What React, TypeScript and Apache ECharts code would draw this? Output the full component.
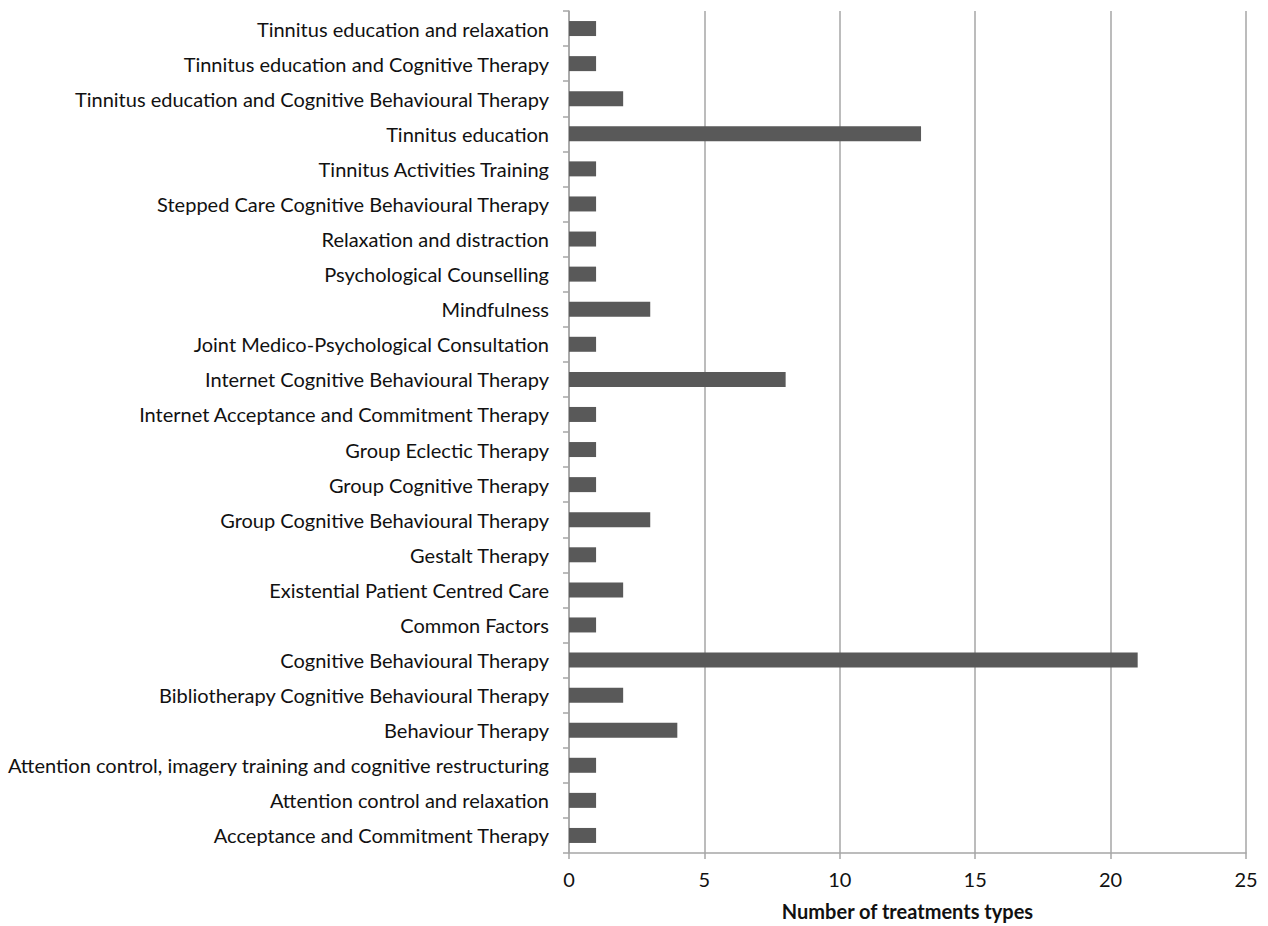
import React, { useEffect, useRef } from "react";
import * as echarts from "echarts";

const categories = [
  "Acceptance and Commitment Therapy",
  "Attention control and relaxation",
  "Attention control, imagery training and cognitive restructuring",
  "Behaviour Therapy",
  "Bibliotherapy Cognitive Behavioural Therapy",
  "Cognitive Behavioural Therapy",
  "Common Factors",
  "Existential Patient Centred Care",
  "Gestalt Therapy",
  "Group Cognitive Behavioural Therapy",
  "Group Cognitive Therapy",
  "Group Eclectic Therapy",
  "Internet Acceptance and Commitment Therapy",
  "Internet Cognitive Behavioural Therapy",
  "Joint Medico-Psychological Consultation",
  "Mindfulness",
  "Psychological Counselling",
  "Relaxation and distraction",
  "Stepped Care Cognitive Behavioural Therapy",
  "Tinnitus Activities Training",
  "Tinnitus education",
  "Tinnitus education and Cognitive Behavioural Therapy",
  "Tinnitus education and Cognitive Therapy",
  "Tinnitus education and relaxation",
];

const counts = [1, 1, 1, 4, 2, 21, 1, 2, 1, 3, 1, 1, 1, 8, 1, 3, 1, 1, 1, 1, 13, 2, 1, 1];

const xAxisName = "Number of treatments types";

const FONT = "Lato, 'Open Sans', sans-serif";

export default function App() {
  const ref = useRef<HTMLDivElement>(null);
  useEffect(() => {
    if (!ref.current) return;
    const chart = echarts.init(ref.current, null, { renderer: "svg" });
    chart.setOption({
      animation: false,
      backgroundColor: "#ffffff",
      grid: { left: 569, right: 22, top: 11, bottom: 68, containLabel: false },
      xAxis: {
        type: "value",
        min: 0,
        max: 25,
        interval: 5,
        name: xAxisName,
        nameLocation: "middle",
        nameGap: 48,
        nameTextStyle: { fontFamily: FONT, fontSize: 20, fontWeight: "bold", color: "#111111" },
        axisLine: { show: true, lineStyle: { color: "#a6a6a6", width: 1.5 } },
        axisTick: { show: true, length: 6, lineStyle: { color: "#a6a6a6", width: 1.5 } },
        axisLabel: { fontFamily: FONT, fontSize: 20, color: "#111111", margin: 16 },
        splitLine: { show: true, lineStyle: { color: "#a6a6a6", width: 1.5 } },
      },
      yAxis: {
        type: "category",
        data: categories,
        axisLine: { show: true, lineStyle: { color: "#a6a6a6", width: 1.5 } },
        axisTick: { show: true, length: 6, lineStyle: { color: "#a6a6a6", width: 1.5 } },
        axisLabel: { fontFamily: FONT, fontSize: 20, color: "#111111", margin: 20 },
        splitLine: { show: false },
      },
      series: [
        {
          type: "bar",
          data: counts,
          barWidth: 15,
          itemStyle: { color: "#595959" },
        },
      ],
    });
    return () => chart.dispose();
  }, []);
  return (
    <div
      ref={ref}
      style={{ position: "absolute", left: 0, top: 0, width: 1268, height: 926 }}
    />
  );
}
